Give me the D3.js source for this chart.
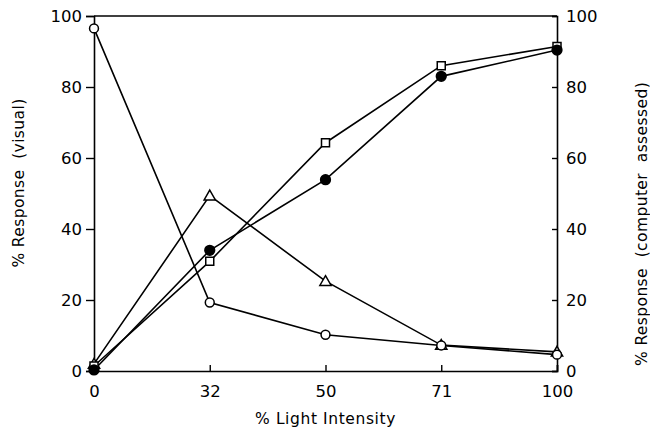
<!DOCTYPE html>
<html>
<head>
<meta charset="utf-8">
<script src="https://cdn.jsdelivr.net/npm/d3@7/dist/d3.min.js"></script>
<style>
  html, body { margin: 0; padding: 0; background: #fff; }
  svg { display: block; }
  text { font-family: "DejaVu Sans", sans-serif; fill: #000; }
</style>
</head>
<body>
<svg id="chart" width="650" height="428"></svg>
<script>
// Light intensity levels (%), evenly spaced along the x axis
const intensities = ["0", "32", "50", "71", "100"];

// Response curves (%)
const openCircle   = [96.5, 19.3, 10.2, 7.2, 4.6];
const openTriangle = [2.0, 49.4, 25.3, 7.3, 5.4];
const openSquare   = [1.4, 30.9, 64.3, 86.0, 91.4];
const filledCircle = [0.3, 34.0, 53.9, 83.0, 90.4];

const yTicks = [0, 20, 40, 60, 80, 100];

const series = [
  { name: "triangle", values: openTriangle },
  { name: "open-circle", values: openCircle },
  { name: "square", values: openSquare },
  { name: "filled-circle", values: filledCircle }
];

const margin = { left: 94, right: 93, top: 16, bottom: 57 };
const W = 650, H = 428;
const svg = d3.select("#chart");

const x = d3.scalePoint().domain(intensities).range([margin.left, W - margin.right]).padding(0);
const y = d3.scaleLinear().domain([0, 100]).range([H - margin.bottom, margin.top]);

const axisFont = "16.5px";

// top frame line
svg.append("line")
  .attr("x1", x.range()[0]).attr("x2", x.range()[1])
  .attr("y1", y(100)).attr("y2", y(100))
  .attr("stroke", "#000").attr("stroke-width", 1.6);

// left axis (ticks outward)
const gL = svg.append("g")
  .attr("transform", `translate(${x.range()[0]},0)`)
  .call(d3.axisLeft(y).tickValues(yTicks).tickSize(8).tickPadding(4).tickFormat(d3.format("d")));

// right axis (ticks inward)
const gR = svg.append("g")
  .attr("transform", `translate(${x.range()[1]},0)`)
  .call(d3.axisRight(y).tickValues(yTicks).tickSize(-5).tickPadding(9).tickFormat(d3.format("d")));

// bottom axis (ticks inward)
const gB = svg.append("g")
  .attr("transform", `translate(0,${y(0)})`)
  .call(d3.axisBottom(x).tickSize(-6).tickPadding(11));

[gL, gR, gB].forEach(g => {
  g.select(".domain").attr("stroke", "#000").attr("stroke-width", 1.6);
  g.selectAll(".tick line").attr("stroke", "#000").attr("stroke-width", 1.4);
  g.selectAll(".tick text").style("font-size", axisFont).attr("fill", "#000");
});
gB.selectAll(".tick text").attr("dy", "0.9em");

// axis titles
svg.append("text")
  .attr("x", x(intensities[2]))
  .attr("y", 424)
  .attr("text-anchor", "middle")
  .style("font-size", "15.5px")
  .style("letter-spacing", "0.6px")
  .text("% Light Intensity");

svg.append("text")
  .attr("transform", `translate(24,${183}) rotate(-90)`)
  .attr("text-anchor", "middle")
  .style("font-size", "15.5px")
  .style("letter-spacing", "0.4px")
  .attr("xml:space", "preserve")
  .text("% Response  (visual)");

svg.append("text")
  .attr("transform", `translate(647,${224}) rotate(-90)`)
  .attr("text-anchor", "middle")
  .style("font-size", "15.5px")
  .style("letter-spacing", "0.4px")
  .attr("xml:space", "preserve")
  .text("% Response  (computer  assessed)");

// lines
const line = d3.line().x((d, i) => x(intensities[i])).y(d => y(d));
series.forEach(s => {
  svg.append("path")
    .datum(s.values)
    .attr("d", line)
    .attr("fill", "none")
    .attr("stroke", "#000")
    .attr("stroke-width", 1.6);
});

// markers
const sym = {
  "triangle": d3.symbol().type(d3.symbolTriangle).size(55),
  "open-circle": d3.symbol().type(d3.symbolCircle).size(62),
  "square": d3.symbol().type(d3.symbolSquare).size(64),
  "filled-circle": d3.symbol().type(d3.symbolCircle).size(75)
};
series.forEach(s => {
  svg.append("g").selectAll("path")
    .data(s.values)
    .join("path")
    .attr("transform", (d, i) => `translate(${x(intensities[i])},${y(d) + (s.name === "triangle" ? 1 : 0)})`)
    .attr("d", sym[s.name])
    .attr("fill", s.name === "filled-circle" ? "#000" : "#fff")
    .attr("stroke", "#000")
    .attr("stroke-width", 1.5);
});
</script>
</body>
</html>
